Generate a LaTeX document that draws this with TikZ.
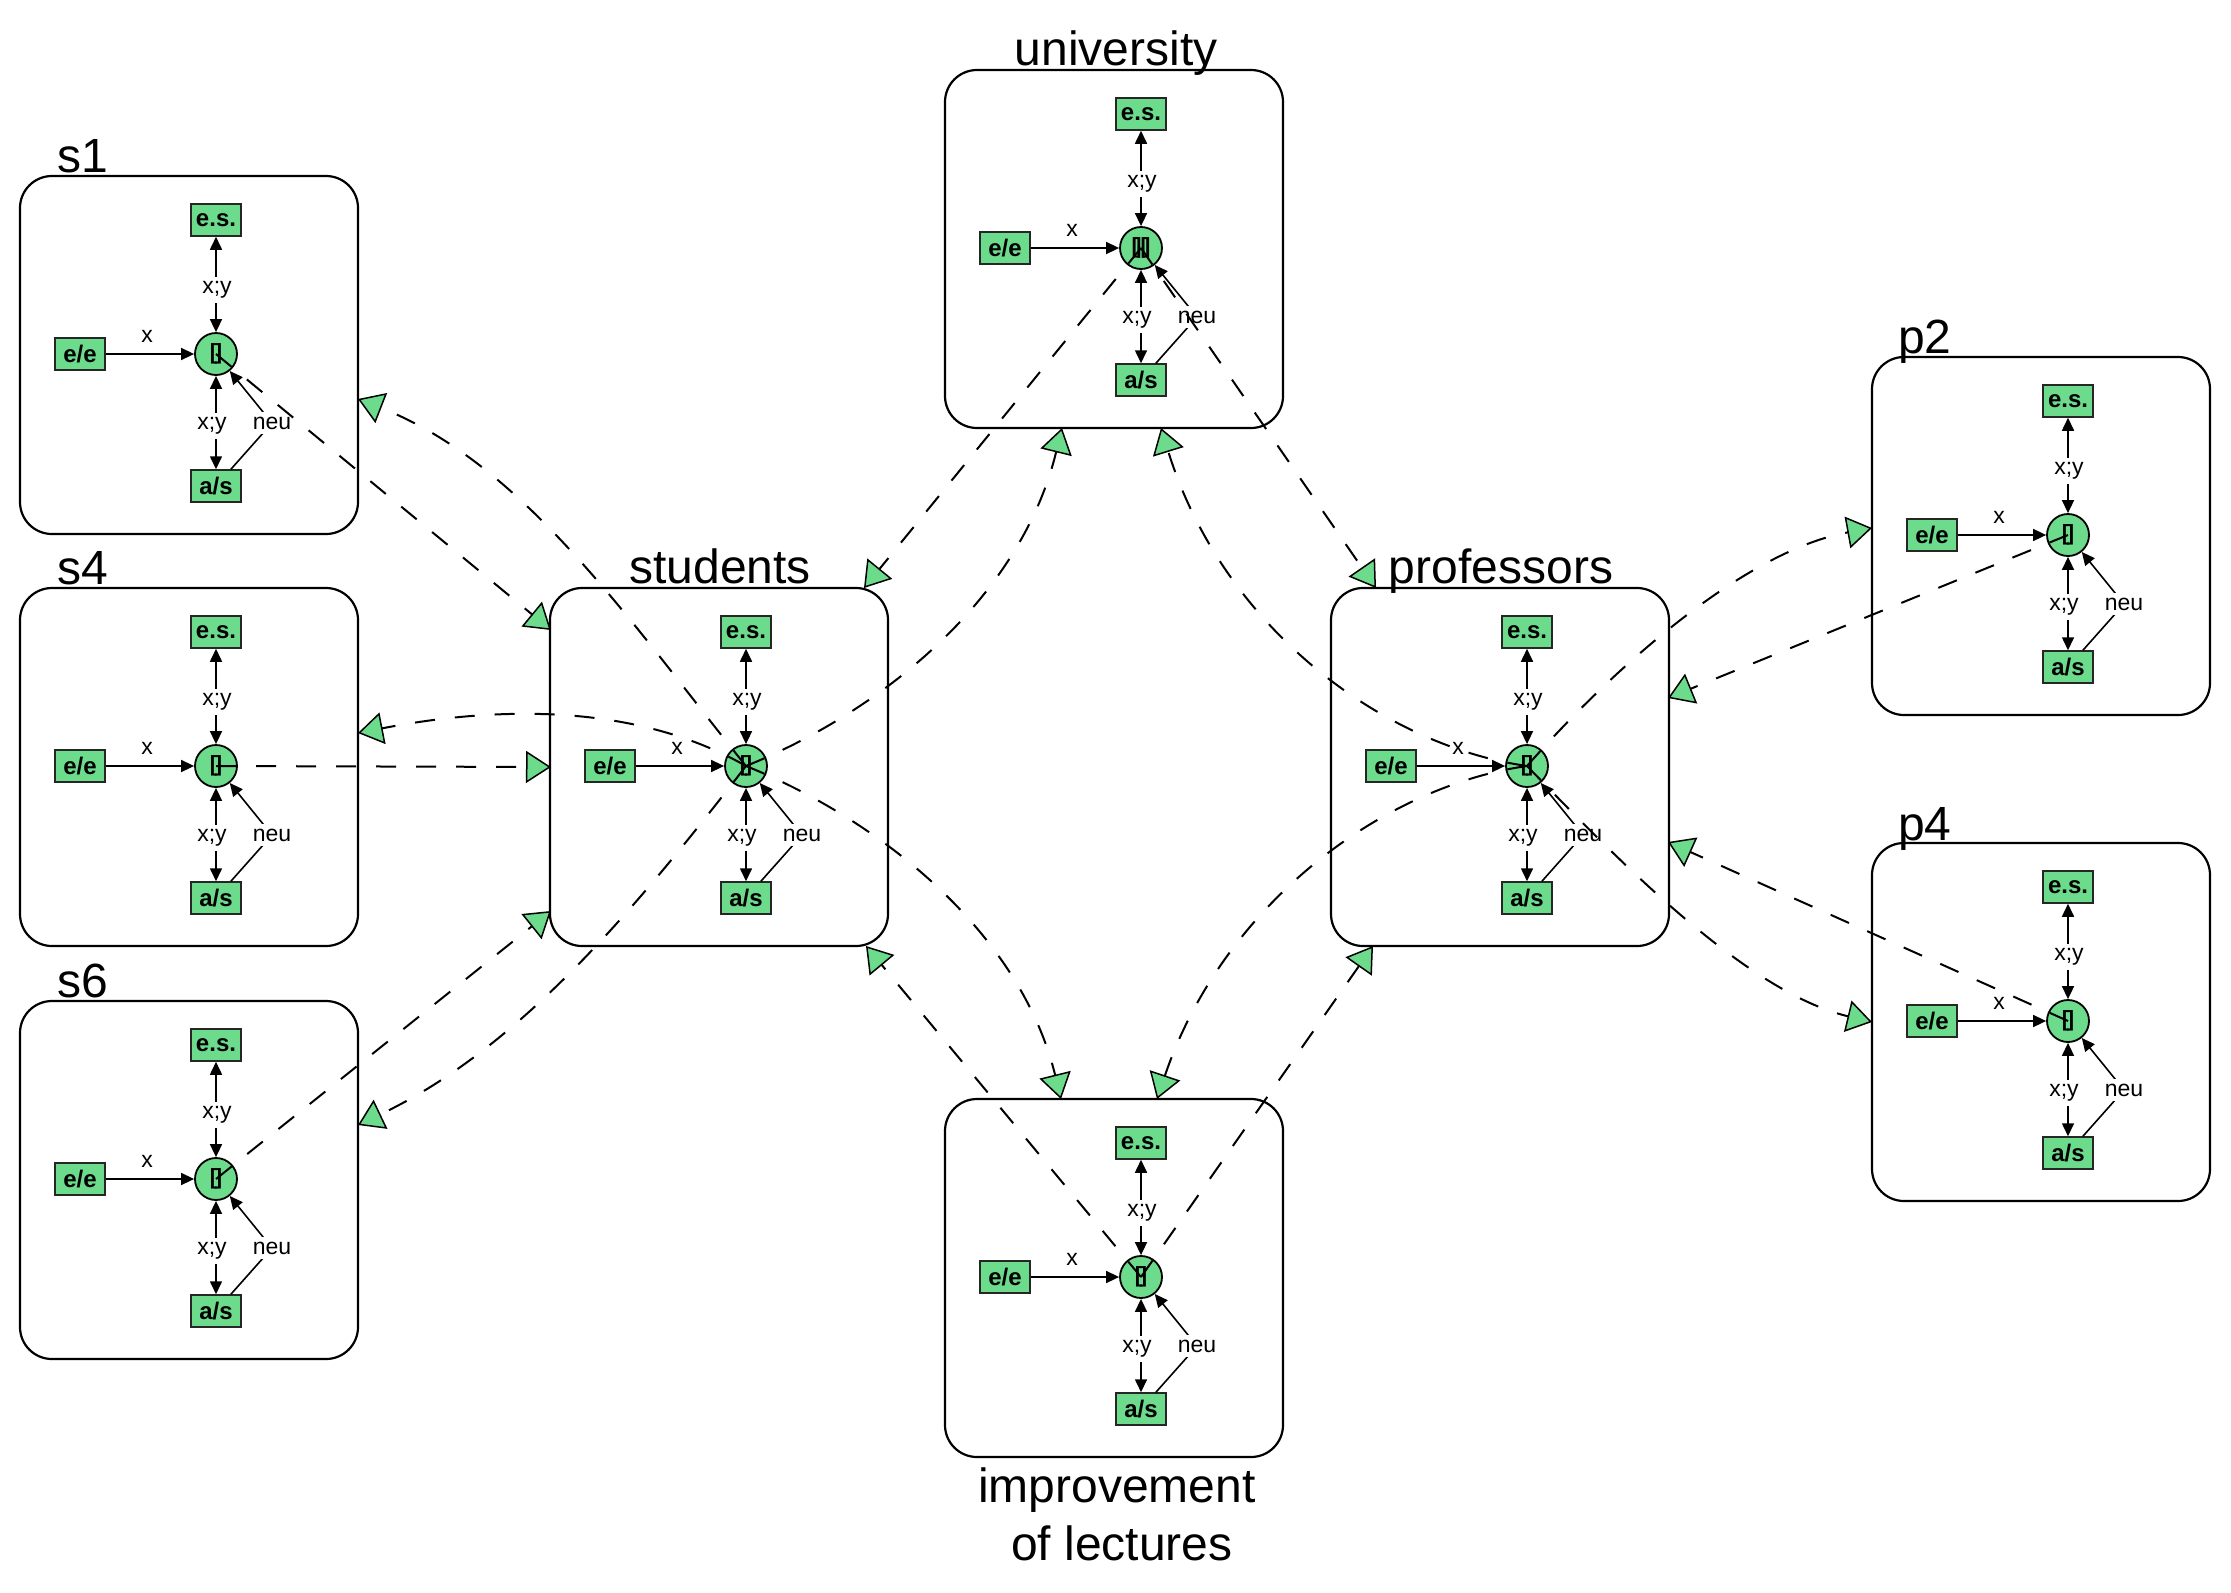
\documentclass[tikz,border=0pt]{standalone}
\usepackage{fontspec}
\setmainfont{Liberation Sans}
\usetikzlibrary{arrows.meta,calc}
\definecolor{ngreen}{RGB}{108,219,140}
\tikzset{
  modbox/.style={draw, line width=2.2pt, rounded corners=32pt, minimum width=338pt, minimum height=358pt, inner sep=0pt, outer sep=0pt},
  sqnode/.style={draw=black!85, fill=ngreen, line width=1.5pt, minimum width=50pt, minimum height=32pt, inner sep=0pt, font=\fontsize{24}{24}\selectfont\bfseries},
  circnode/.style={circle, draw, fill=ngreen, line width=1.8pt, minimum size=42pt, inner sep=0pt, font=\fontsize{22}{22}\selectfont\bfseries},
  lbl/.style={font=\fontsize{23}{23}\selectfont, inner sep=1pt},
  wlbl/.style={lbl, fill=white, inner xsep=1pt, inner ysep=5pt},
  title/.style={font=\fontsize{48}{58}\selectfont, inner sep=0pt},
  solidarr/.style={line width=1.6pt, -{Triangle[length=13pt,width=12pt]}},
  biarr/.style={line width=1.6pt, {Triangle[length=13pt,width=12pt]}-{Triangle[length=13pt,width=12pt]}},
  link/.style={line width=2pt, dash pattern=on 20pt off 20pt, -{Triangle[length=25pt,width=32pt,fill=ngreen,line width=1.5pt]}},
}
\newcommand\pmodule[4]{%
  \node[modbox] (#1) at (#2,#3) {};
  \node[circnode] (#1c) at (#2+27,#3-1) {#4};
  \node[sqnode] (#1es) at (#2+27,#3-135) {e.s.};
  \node[sqnode] (#1as) at (#2+27,#3+131) {a/s};
  \node[sqnode] (#1ee) at (#2-109,#3-1) {e/e};
  \coordinate (#1nk) at (#2+83,#3+68);
  \draw[solidarr] (#1ee) -- (#1c);
  \draw[biarr] (#1c) -- (#1es);
  \draw[biarr] (#1c) -- (#1as);
  \draw[solidarr] (#1as) -- (#1nk) -- (#1c);
  \node[lbl] (#1x) at (#2-42,#3-19) {x};
  \node[wlbl] (#1xya) at (#2+28,#3-65) {x;y};
  \node[wlbl] (#1xyb) at (#2+23,#3+71) {x;y};
  \node[wlbl] (#1neu) at (#1nk) {neu};
}
\newcommand\brk{[\kern-2.5pt]}
\begin{document}
\begin{tikzpicture}[x=1pt,y=-1pt]
\useasboundingbox (0,0) rectangle (2231,1593);
% modules
\pmodule{s1}{189}{355}{\brk}
\pmodule{s4}{189}{767}{\brk}
\pmodule{s6}{189}{1180}{\brk}
\pmodule{st}{719}{767}{\brk}
\pmodule{un}{1114}{249}{[\kern-3pt|\kern-2pt|\kern-3pt]}
\pmodule{pr}{1500}{767}{\brk}
\pmodule{p2}{2041}{536}{\brk}
\pmodule{p4}{2041}{1022}{\brk}
\pmodule{im}{1114}{1278}{\brk}
% titles
\node[title, anchor=base west] (s1t) at (57,172) {s1};
\node[title, anchor=base west] (s4t) at (57,584) {s4};
\node[title, anchor=base west] (s6t) at (57,997) {s6};
\node[title, anchor=base west] (p2t) at (1898,353) {p2};
\node[title, anchor=base west] (p4t) at (1898,840) {p4};
\node[title, anchor=base] (stt) at (720,583) {students};
\node[title, anchor=base] (unt) at (1116,65) {university};
\node[title, anchor=base] (prt) at (1501,583) {professors};
\node[title, anchor=base] (imt1) at (1117,1502) {improvement};
\node[title, anchor=base] (imt2) at (1122,1560) {of lectures};
% connector end points (on box borders)
\coordinate (e1) at (551,630);
\coordinate (e2) at (358,399);
\coordinate (e3) at (551,767);
\coordinate (e4) at (358,733);
\coordinate (e5) at (551,911);
\coordinate (e6) at (358,1125);
\coordinate (e7) at (1062,428);
\coordinate (e8) at (864,588);
\coordinate (e9) at (1376,588);
\coordinate (e10) at (1161,428);
\coordinate (e11) at (1061,1099);
\coordinate (e12) at (866,946);
\coordinate (e13) at (1157,1099);
\coordinate (e14) at (1373,946);
\coordinate (e15) at (1872,528);
\coordinate (e16) at (1668,698);
\coordinate (e17) at (1872,1022);
\coordinate (e18) at (1668,842);
% connectors
\draw[link] (s1c.center) -- (e1);
\draw[link] (stc.center) .. controls (633,626) and (525,464) .. (e2);
\draw[link] (s4c.center) -- (e3);
\draw[link] (stc.center) .. controls (630,700) and (487,708) .. (e4);
\draw[link] (s6c.center) -- (e5);
\draw[link] (stc.center) .. controls (636,908) and (520,1048) .. (e6);
\draw[link] (stc.center) .. controls (880,712) and (1020,600) .. (e7);
\draw[link] (unc.center) -- (e8);
\draw[link] (unc.center) -- (e9);
\draw[link] (prc.center) .. controls (1380,745) and (1222,625) .. (e10);
\draw[link] (stc.center) .. controls (880,820) and (1020,932) .. (e11);
\draw[link] (imc.center) -- (e12);
\draw[link] (prc.center) .. controls (1380,787) and (1222,907) .. (e13);
\draw[link] (imc.center) -- (e14);
\draw[link] (prc.center) .. controls (1613,668) and (1745,551) .. (e15);
\draw[link] (p2c.center) -- (e16);
\draw[link] (prc.center) .. controls (1618,860) and (1746,992) .. (e17);
\draw[link] (p4c.center) -- (e18);
\end{tikzpicture}
\end{document}
